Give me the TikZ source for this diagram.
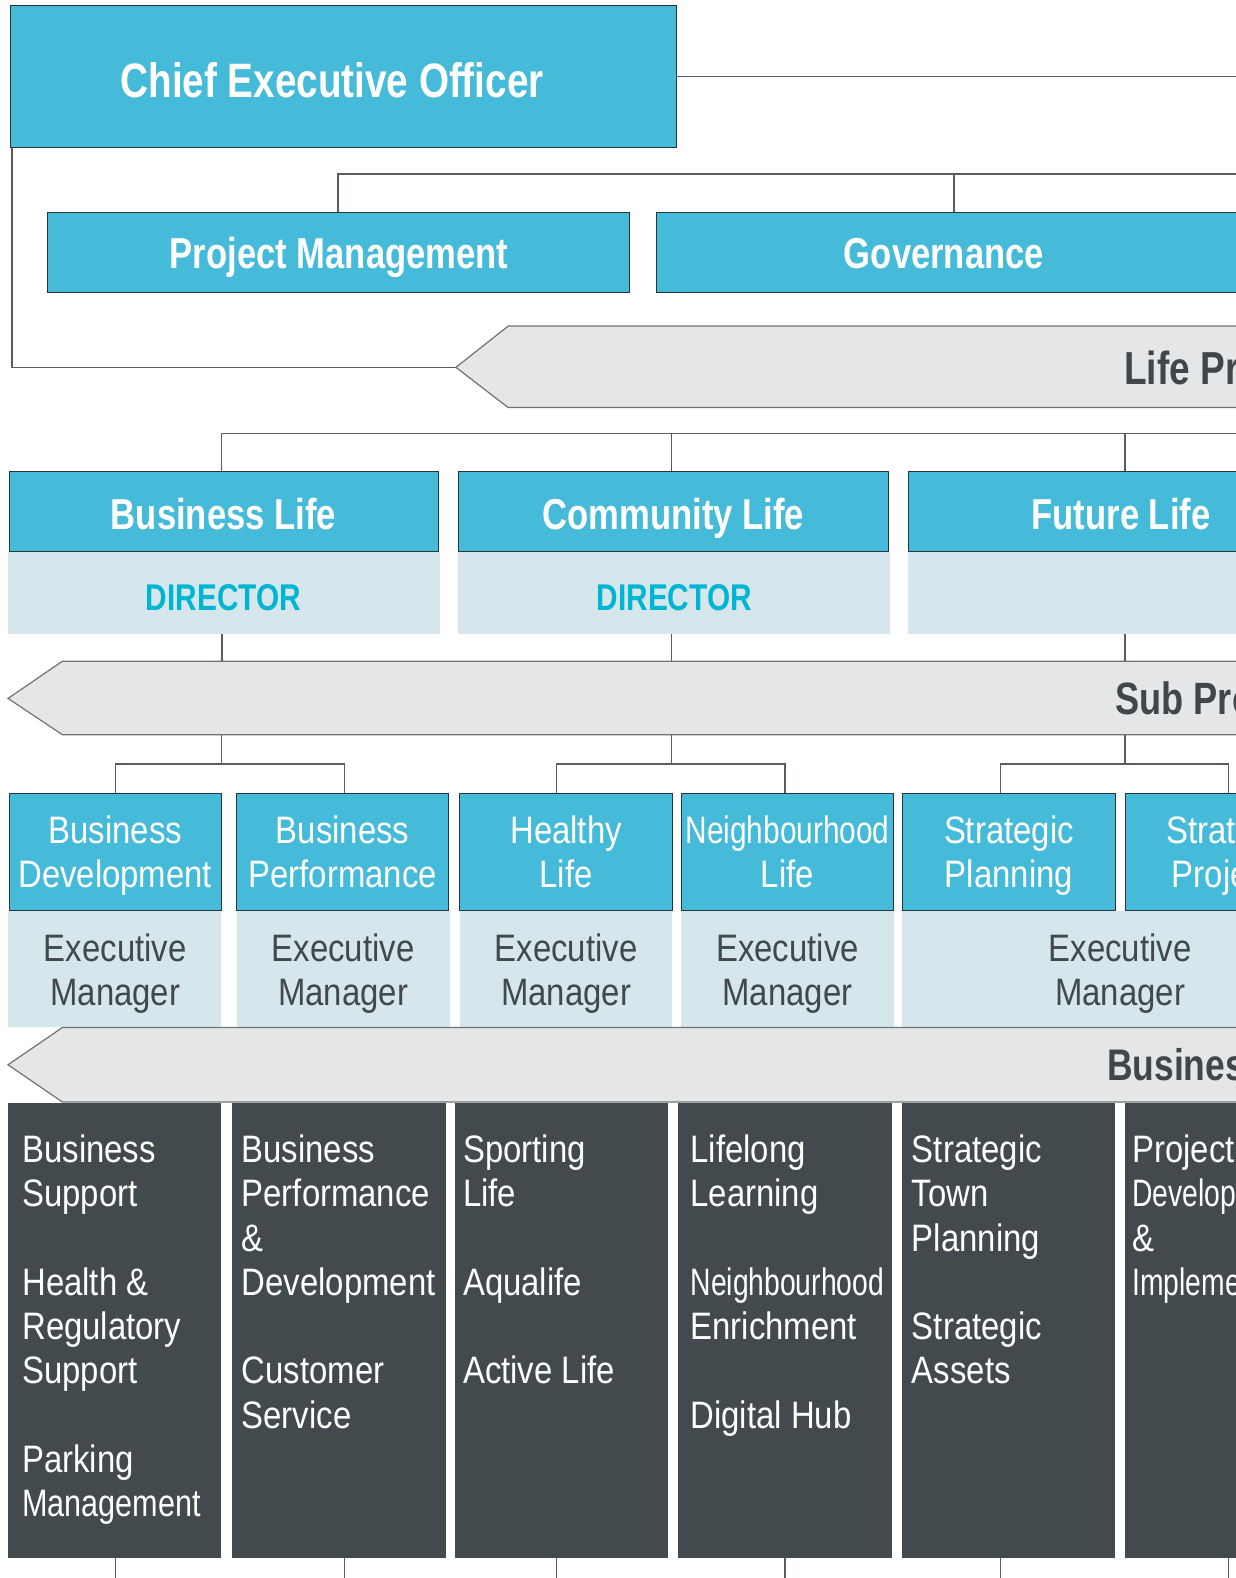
\documentclass[tikz,border=0pt]{standalone}
\usepackage{fontspec}
\setmainfont{Liberation Sans}[FakeStretch=0.86]
\newfontfamily\hdrfont{Liberation Sans}[FakeStretch=0.8]
\newfontfamily\sqfont{Liberation Sans}[FakeStretch=0.74]
\newfontfamily\sqfontb{Liberation Sans}[FakeStretch=0.78]
\newfontfamily\sqfontc{Liberation Sans}[FakeStretch=0.8]
\definecolor{cyanc}{RGB}{69,187,217}
\definecolor{lightc}{RGB}{213,231,236}
\definecolor{darkc}{RGB}{66,74,77}
\definecolor{bandc}{RGB}{229,230,232}
\definecolor{bandline}{RGB}{112,115,117}
\definecolor{linec}{RGB}{88,93,96}
\definecolor{boxline}{RGB}{38,52,60}
\definecolor{dirc}{RGB}{0,181,212}
\definecolor{bandtext}{RGB}{64,71,74}
\definecolor{mgrc}{RGB}{66,72,75}
\begin{document}
\begin{tikzpicture}[x=1pt,y=-1pt,
  cbox/.style={draw=boxline, line width=0.9pt, fill=cyanc, anchor=north west, inner sep=0pt, outer sep=0pt},
  lbox/.style={fill=lightc, anchor=north west, inner sep=0pt, outer sep=0pt},
  dbox/.style={fill=darkc, anchor=north west, inner sep=0pt, outer sep=0pt},
  conn/.style={draw=linec, line width=1.3pt},
  band/.style={fill=bandc, draw=bandline, line width=1.2pt},
  hdr/.style={font=\hdrfont\bfseries\fontsize{43}{48}\selectfont, text=white, anchor=base, inner sep=0pt},
  bandtxt/.style={font=\hdrfont\bfseries\fontsize{45}{50}\selectfont, text=bandtext, anchor=base west, inner sep=0pt},
  dirtxt/.style={font=\hdrfont\bfseries\fontsize{37}{42}\selectfont, text=dirc, anchor=base, inner sep=0pt},
  unittxt/.style={font=\fontsize{38}{44}\selectfont, text=white, align=center, anchor=north, inner sep=0pt},
  mgrtxt/.style={unittxt, text=mgrc},
  listtxt/.style={font=\fontsize{38}{44}\selectfont, text=white, align=left, anchor=north west, inner sep=0pt}
]
\useasboundingbox (0,0) rectangle (1228,1568);
\clip (0,0) rectangle (1228,1568);

% ---------- CEO ----------
\node[cbox, minimum width=662pt, minimum height=142pt] (ceo) at (10,5) {};
\node[hdr, font=\hdrfont\bfseries\fontsize{48}{52}\selectfont] (ceot) at (330,97) {Chief Executive Officer};
\coordinate (r0) at (1228,76);
\draw[conn] (ceo.east) -- (r0);

% ---------- second level ----------
\node[cbox, minimum width=578pt, minimum height=80pt] (pm) at (47,211) {};
\node[hdr] (pmt) at (337,267) {Project Management};
\node[cbox, minimum width=592pt, minimum height=80pt] (gov) at (652,211) {};
\node[hdr] (govt) at (938,267) {Governance};
\coordinate (b1) at (1228,173);
\draw[conn] (pm.north) |- (b1);
\draw[conn] (gov.north) -- (gov.north |- b1);

% ---------- Life band ----------
\coordinate (lptip) at (453,365);
\draw[band] (lptip) -- (505,324) -- (1240,324) -- (1240,405) -- (505,405) -- cycle;
\node[bandtxt, font=\hdrfont\bfseries\fontsize{46}{50}\selectfont] (lpt) at (1117,382) {Life Programs};
\draw[conn] ([xshift=2pt]ceo.south west) |- (lptip);

% ---------- Life boxes ----------
\node[cbox, minimum width=427pt, minimum height=80pt] (bl) at (9,468) {};
\node[hdr] (blt) at (222,526) {Business Life};
\node[lbox, minimum width=429pt, minimum height=82pt] (bld) at (8,548) {};
\node[dirtxt] (bldt) at (222,607) {DIRECTOR};

\node[cbox, minimum width=427pt, minimum height=80pt] (cl) at (456,468) {};
\node[hdr] (clt) at (669,526) {Community Life};
\node[lbox, minimum width=429pt, minimum height=82pt] (cld) at (455,548) {};
\node[dirtxt] (cldt) at (670,607) {DIRECTOR};

\node[cbox, minimum width=427pt, minimum height=80pt] (fl) at (903,468) {};
\node[hdr] (flt) at (1114,526) {Future Life};
\node[lbox, minimum width=430pt, minimum height=82pt] (fld) at (902,548) {};

\coordinate (b2) at (1228,431);
\draw[conn] ([xshift=-2.5pt]bl.north) |- (b2);
\draw[conn] ([xshift=-2.5pt]cl.north) -- ([xshift=-2.5pt]cl.north |- b2);
\draw[conn] ([xshift=1.5pt]fl.north) -- ([xshift=1.5pt]fl.north |- b2);

% ---------- Sub band ----------
\coordinate (sptip) at (8,694);
\draw[band] (sptip) -- (62,657) -- (1240,657) -- (1240,730) -- (62,730) -- cycle;
\node[bandtxt] (spt) at (1108,710) {Sub Programs};
\coordinate (spt1) at (0,657);
\coordinate (spb1) at (0,730);
\draw[conn] ([xshift=-2pt]bld.south) -- ([xshift=-2pt]bld.south |- spt1);
\draw[conn] ([xshift=-2.5pt]cld.south) -- ([xshift=-2.5pt]cld.south |- spt1);
\draw[conn] ([xshift=1pt]fld.south) -- ([xshift=1pt]fld.south |- spt1);

% ---------- unit boxes ----------
\foreach \n/\x in {bdev/9, bperf/235, hl/457, nl/677, spl/897, spj/1118}{
  \node[cbox, minimum width=211pt, minimum height=117pt] (\n) at (\x,788) {};
}
\node[unittxt] (bdevt) at (114.5,808) {\rule{0pt}{30pt}Business\\Development};
\node[unittxt] (bperft) at (340.5,808) {\rule{0pt}{30pt}Business\\Performance};
\node[unittxt] (hlt) at (562.5,808) {\rule{0pt}{30pt}Healthy\\Life};
\node[unittxt] (nlt) at (782.5,808) {\rule{0pt}{30pt}{\sqfontb Neighbourhood}\\Life};
\node[unittxt] (splt) at (1002.5,808) {\rule{0pt}{30pt}Strategic\\Planning};
\node[unittxt] (spjt) at (1223.5,808) {\rule{0pt}{30pt}Strategic\\Projects};

\coordinate (bus3) at (0,759);
\draw[conn] ([xshift=-2.5pt]bl.north |- spb1) -- ([xshift=-2.5pt]bl.north |- bus3);
\draw[conn] ([xshift=-2.5pt]cl.north |- spb1) -- ([xshift=-2.5pt]cl.north |- bus3);
\draw[conn] ([xshift=1.5pt]fl.north |- spb1) -- ([xshift=1.5pt]fl.north |- bus3);
\draw[conn] (bdev.north) |- ([xshift=1.5pt]bperf.north |- bus3) -- ([xshift=1.5pt]bperf.north);
\draw[conn] ([xshift=-9.5pt]hl.north) |- ([xshift=-2.5pt]nl.north |- bus3) -- ([xshift=-2.5pt]nl.north);
\draw[conn] ([xshift=-8.5pt]spl.north) |- ([xshift=-2.5pt]spj.north |- bus3) -- ([xshift=-2.5pt]spj.north);

% ---------- manager row ----------
\node[lbox, minimum width=212pt, minimum height=115pt] (m1) at (8,905) {};
\node[lbox, minimum width=212pt, minimum height=115pt] (m2) at (235,905) {};
\node[lbox, minimum width=211pt, minimum height=115pt] (m3) at (457,905) {};
\node[lbox, minimum width=211pt, minimum height=115pt] (m4) at (677,905) {};
\node[lbox, minimum width=434pt, minimum height=115pt] (m5) at (896,905) {};
\node[mgrtxt] (m1t) at (114.5,925) {\rule{0pt}{30pt}Executive\\Manager};
\node[mgrtxt] (m2t) at (341,925) {\rule{0pt}{30pt}Executive\\Manager};
\node[mgrtxt] (m3t) at (562.5,925) {\rule{0pt}{30pt}Executive\\Manager};
\node[mgrtxt] (m4t) at (782.5,925) {\rule{0pt}{30pt}Executive\\Manager};
\node[mgrtxt] (m5t) at (1113,925) {\rule{0pt}{30pt}Executive\\Manager};

% ---------- Business band ----------
\coordinate (butip) at (8,1058);
\draw[band] (butip) -- (62,1021) -- (1240,1021) -- (1240,1095) -- (62,1095) -- cycle;
\node[bandtxt, font=\hdrfont\bfseries\fontsize{44}{50}\selectfont] (but) at (1100,1074) {Business Units};

% ---------- dark boxes ----------
\foreach \n/\x in {d1/8, d2/231, d3/452, d4/674, d5/896, d6/1118}{
  \node[dbox, minimum width=212pt, minimum height=452pt] (\n) at (\x,1096) {};
}
\node[listtxt] (d1t) at (22,1125) {\rule{0pt}{30pt}Business\\Support\\[44pt]Health \&\\Regulatory\\Support\\[44pt]Parking\\{\sqfontc Management}};
\node[listtxt] (d2t) at (240,1125) {\rule{0pt}{30pt}Business\\Performance\\\&\\Development\\[44pt]Customer\\Service};
\node[listtxt] (d3t) at (460,1125) {\rule{0pt}{30pt}Sporting\\Life\\[44pt]Aqualife\\[44pt]Active Life};
\node[listtxt] (d4t) at (686,1125) {\rule{0pt}{30pt}Lifelong\\Learning\\[44pt]{\sqfont Neighbourhood}\\Enrichment\\[44pt]Digital Hub};
\node[listtxt] (d5t) at (906,1125) {\rule{0pt}{30pt}Strategic\\Town\\Planning\\[44pt]Strategic\\Assets};
\node[listtxt] (d6t) at (1125,1125) {\rule{0pt}{30pt}Project\\{\sqfont Development}\\\&\\{\sqfont Implementation}};

\coordinate (bot) at (0,1570);
\draw[conn] ([xshift=1pt]d1.south) -- ([xshift=1pt]d1.south |- bot);
\draw[conn] ([xshift=5pt]d2.south) -- ([xshift=5pt]d2.south |- bot);
\draw[conn] ([xshift=-5pt]d3.south) -- ([xshift=-5pt]d3.south |- bot);
\draw[conn] (d4.south) -- (d4.south |- bot);
\draw[conn] ([xshift=-8pt]d5.south) -- ([xshift=-8pt]d5.south |- bot);
\draw[conn] ([xshift=-3pt]d6.south) -- ([xshift=-3pt]d6.south |- bot);
\end{tikzpicture}
\end{document}
